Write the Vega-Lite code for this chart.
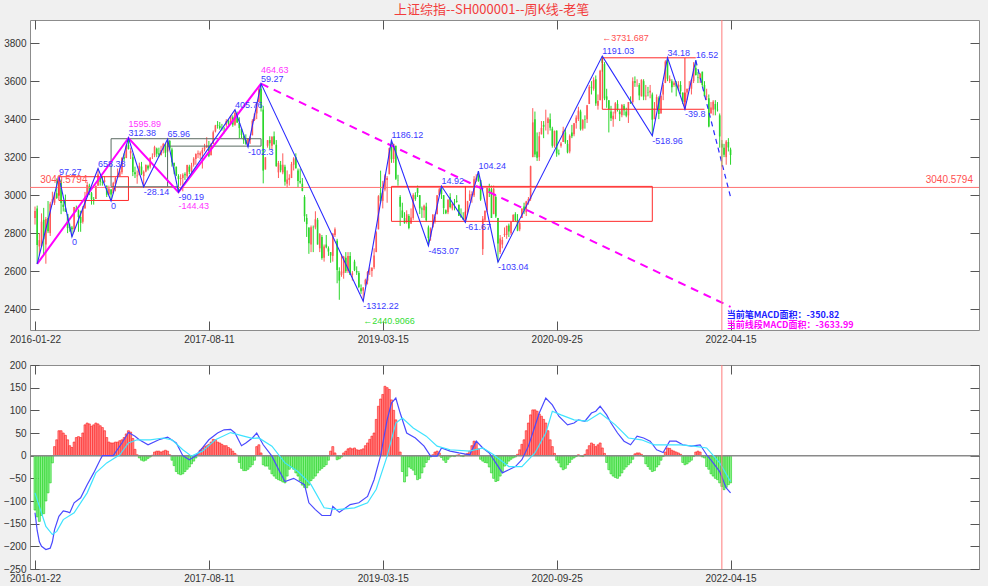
{
"$schema":"https://vega.github.io/schema/vega-lite/v6.json",
"background":"#f0f0f0",
"padding":{"left":2,"top":4,"right":11,"bottom":2},
"spacing":13,
"title":{"text":"上证综指--SH000001--周K线-老笔","fontSize":13,"font":"Noto Sans CJK SC","fontWeight":"normal","color":"#f23c3c","offset":2,"anchor":"middle"},
"config":{
 "view":{"fill":"white","stroke":"#8c8c8c","strokeWidth":1},
 "axis":{"domain":false,"grid":false,"labelFont":"Liberation Sans","labelFontSize":10,"labelColor":"#333333","tickColor":"#555555","tickSize":-9,"labelPadding":13,"labelOverlap":false},
 "text":{"font":"Liberation Sans","fontSize":9}
},
"datasets":{
"k":[
{"i":0,"o":2880,"h":2940,"l":2845,"c":2917,"m":-120},
{"i":1,"o":2930,"h":2945,"l":2638,"c":2738,"m":-135},
{"i":2,"o":2730,"h":2800,"l":2682,"c":2763,"m":-145},
{"i":3,"o":2730,"h":2904,"l":2730,"c":2860,"m":-132},
{"i":4,"o":2870,"h":2933,"l":2685,"c":2767,"m":-128},
{"i":5,"o":2740,"h":2885,"l":2639,"c":2874,"m":-100},
{"i":6,"o":2880,"h":2969,"l":2800,"c":2810,"m":-82},
{"i":7,"o":2800,"h":2965,"l":2785,"c":2955,"m":-60},
{"i":8,"o":2960,"h":3018,"l":2950,"c":2979,"m":-16},
{"i":9,"o":2960,"h":3016,"l":2948,"c":3009,"m":20},
{"i":10,"o":3010,"h":3088,"l":2980,"c":2985,"m":35},
{"i":11,"o":3000,"h":3097,"l":2995,"c":3078,"m":55},
{"i":12,"o":3070,"h":3082,"l":2900,"c":2959,"m":55},
{"i":13,"o":2950,"h":2970,"l":2914,"c":2938,"m":50},
{"i":14,"o":2930,"h":3003,"l":2912,"c":2913,"m":45},
{"i":15,"o":2900,"h":2900,"l":2800,"c":2827,"m":35},
{"i":16,"o":2830,"h":2850,"l":2807,"c":2825,"m":22},
{"i":17,"o":2830,"h":2838,"l":2781,"c":2821,"m":18},
{"i":18,"o":2820,"h":2938,"l":2806,"c":2938,"m":30},
{"i":19,"o":2930,"h":2945,"l":2914,"c":2927,"m":40},
{"i":20,"o":2920,"h":2925,"l":2807,"c":2885,"m":42},
{"i":21,"o":2885,"h":2918,"l":2807,"c":2854,"m":40},
{"i":22,"o":2860,"h":2942,"l":2850,"c":2932,"m":50},
{"i":23,"o":2930,"h":3017,"l":2930,"c":2988,"m":68},
{"i":24,"o":2990,"h":3070,"l":2990,"c":3054,"m":72},
{"i":25,"o":3050,"h":3060,"l":3000,"c":3012,"m":70},
{"i":26,"o":3010,"h":3017,"l":2950,"c":2979,"m":65},
{"i":27,"o":2980,"h":2990,"l":2950,"c":2976,"m":68},
{"i":28,"o":2980,"h":3050,"l":2980,"c":3050,"m":72},
{"i":29,"o":3050,"h":3140,"l":3050,"c":3108,"m":70},
{"i":30,"o":3100,"h":3100,"l":3050,"c":3070,"m":66},
{"i":31,"o":3070,"h":3100,"l":3050,"c":3067,"m":62},
{"i":32,"o":3070,"h":3100,"l":3065,"c":3078,"m":55},
{"i":33,"o":3050,"h":3050,"l":2990,"c":3002,"m":40},
{"i":34,"o":3005,"h":3050,"l":3000,"c":3033,"m":30},
{"i":35,"o":3030,"h":3032,"l":2969,"c":3004,"m":28},
{"i":36,"o":3010,"h":3070,"l":3010,"c":3063,"m":28},
{"i":37,"o":3060,"h":3095,"l":3020,"c":3090,"m":30},
{"i":38,"o":3095,"h":3140,"l":3090,"c":3104,"m":30},
{"i":39,"o":3100,"h":3145,"l":3100,"c":3125,"m":33},
{"i":40,"o":3120,"h":3200,"l":3110,"c":3196,"m":35},
{"i":41,"o":3200,"h":3220,"l":3180,"c":3192,"m":40},
{"i":42,"o":3195,"h":3270,"l":3195,"c":3261,"m":48},
{"i":43,"o":3265,"h":3301,"l":3240,"c":3243,"m":55},
{"i":44,"o":3220,"h":3250,"l":3190,"c":3232,"m":52},
{"i":45,"o":3200,"h":3220,"l":3100,"c":3122,"m":38},
{"i":46,"o":3120,"h":3150,"l":3090,"c":3110,"m":14},
{"i":47,"o":3100,"h":3130,"l":3060,"c":3104,"m":2},
{"i":48,"o":3105,"h":3171,"l":3105,"c":3154,"m":-5},
{"i":49,"o":3150,"h":3175,"l":3105,"c":3112,"m":-10},
{"i":50,"o":3100,"h":3130,"l":3044,"c":3123,"m":-12},
{"i":51,"o":3125,"h":3162,"l":3120,"c":3159,"m":-10},
{"i":52,"o":3155,"h":3160,"l":3130,"c":3140,"m":-6},
{"i":53,"o":3150,"h":3200,"l":3140,"c":3196,"m":-3},
{"i":54,"o":3200,"h":3220,"l":3190,"c":3202,"m":1},
{"i":55,"o":3210,"h":3260,"l":3200,"c":3253,"m":8},
{"i":56,"o":3245,"h":3250,"l":3200,"c":3218,"m":10},
{"i":57,"o":3220,"h":3250,"l":3200,"c":3212,"m":10},
{"i":58,"o":3210,"h":3260,"l":3210,"c":3237,"m":8},
{"i":59,"o":3240,"h":3275,"l":3220,"c":3269,"m":10},
{"i":60,"o":3260,"h":3270,"l":3200,"c":3223,"m":12},
{"i":61,"o":3230,"h":3295,"l":3230,"c":3286,"m":10},
{"i":62,"o":3285,"h":3290,"l":3240,"c":3246,"m":2},
{"i":63,"o":3240,"h":3250,"l":3150,"c":3173,"m":-10},
{"i":64,"o":3170,"h":3170,"l":3110,"c":3155,"m":-22},
{"i":65,"o":3150,"h":3150,"l":3100,"c":3103,"m":-35},
{"i":66,"o":3100,"h":3110,"l":3016,"c":3085,"m":-40},
{"i":67,"o":3085,"h":3110,"l":3050,"c":3090,"m":-42},
{"i":68,"o":3090,"h":3115,"l":3020,"c":3107,"m":-40},
{"i":69,"o":3110,"h":3120,"l":3080,"c":3105,"m":-35},
{"i":70,"o":3100,"h":3160,"l":3090,"c":3158,"m":-30},
{"i":71,"o":3150,"h":3160,"l":3110,"c":3123,"m":-25},
{"i":72,"o":3125,"h":3170,"l":3115,"c":3157,"m":-18},
{"i":73,"o":3160,"h":3200,"l":3150,"c":3192,"m":-12},
{"i":74,"o":3190,"h":3220,"l":3160,"c":3217,"m":-5},
{"i":75,"o":3215,"h":3235,"l":3195,"c":3220,"m":5},
{"i":76,"o":3210,"h":3230,"l":3190,"c":3222,"m":12},
{"i":77,"o":3220,"h":3250,"l":3140,"c":3237,"m":16},
{"i":78,"o":3240,"h":3270,"l":3230,"c":3253,"m":20},
{"i":79,"o":3250,"h":3305,"l":3250,"c":3262,"m":22},
{"i":80,"o":3260,"h":3285,"l":3200,"c":3208,"m":25},
{"i":81,"o":3210,"h":3275,"l":3210,"c":3268,"m":30},
{"i":82,"o":3270,"h":3340,"l":3270,"c":3331,"m":36},
{"i":83,"o":3335,"h":3370,"l":3330,"c":3367,"m":35},
{"i":84,"o":3370,"h":3390,"l":3350,"c":3365,"m":30},
{"i":85,"o":3365,"h":3385,"l":3345,"c":3353,"m":28},
{"i":86,"o":3355,"h":3375,"l":3340,"c":3352,"m":25},
{"i":87,"o":3350,"h":3360,"l":3325,"c":3348,"m":22},
{"i":88,"o":3370,"h":3400,"l":3360,"c":3390,"m":22},
{"i":89,"o":3390,"h":3400,"l":3370,"c":3378,"m":18},
{"i":90,"o":3380,"h":3420,"l":3370,"c":3416,"m":15},
{"i":91,"o":3410,"h":3420,"l":3360,"c":3371,"m":10},
{"i":92,"o":3370,"h":3450,"l":3365,"c":3432,"m":5},
{"i":93,"o":3430,"h":3440,"l":3380,"c":3382,"m":1},
{"i":94,"o":3380,"h":3410,"l":3300,"c":3353,"m":-15},
{"i":95,"o":3350,"h":3350,"l":3300,"c":3317,"m":-28},
{"i":96,"o":3310,"h":3320,"l":3270,"c":3289,"m":-33},
{"i":97,"o":3290,"h":3320,"l":3265,"c":3270,"m":-33},
{"i":98,"o":3265,"h":3300,"l":3254,"c":3297,"m":-30},
{"i":99,"o":3290,"h":3310,"l":3270,"c":3307,"m":-25},
{"i":100,"o":3315,"h":3400,"l":3315,"c":3391,"m":-20},
{"i":101,"o":3395,"h":3430,"l":3390,"c":3429,"m":-10},
{"i":102,"o":3430,"h":3490,"l":3400,"c":3487,"m":20},
{"i":103,"o":3490,"h":3570,"l":3490,"c":3558,"m":24},
{"i":104,"o":3560,"h":3587,"l":3440,"c":3462,"m":6},
{"i":105,"o":3450,"h":3470,"l":3062,"c":3129,"m":-20},
{"i":106,"o":3135,"h":3200,"l":3135,"c":3199,"m":-23},
{"i":107,"o":3260,"h":3290,"l":3250,"c":3289,"m":-23},
{"i":108,"o":3290,"h":3310,"l":3240,"c":3273,"m":-30},
{"i":109,"o":3260,"h":3310,"l":3240,"c":3307,"m":-40},
{"i":110,"o":3310,"h":3335,"l":3265,"c":3269,"m":-45},
{"i":111,"o":3265,"h":3290,"l":3150,"c":3152,"m":-50},
{"i":112,"o":3120,"h":3180,"l":3090,"c":3169,"m":-53},
{"i":113,"o":3160,"h":3180,"l":3120,"c":3131,"m":-55},
{"i":114,"o":3120,"h":3220,"l":3110,"c":3160,"m":-58},
{"i":115,"o":3150,"h":3160,"l":3050,"c":3071,"m":-60},
{"i":116,"o":3060,"h":3130,"l":3040,"c":3082,"m":-45},
{"i":117,"o":3080,"h":3110,"l":3050,"c":3091,"m":-30},
{"i":118,"o":3090,"h":3175,"l":3090,"c":3163,"m":-25},
{"i":119,"o":3160,"h":3200,"l":3130,"c":3193,"m":-30},
{"i":120,"o":3200,"h":3220,"l":3140,"c":3141,"m":-38},
{"i":121,"o":3130,"h":3140,"l":3040,"c":3075,"m":-45},
{"i":122,"o":3075,"h":3140,"l":3060,"c":3067,"m":-55},
{"i":123,"o":3060,"h":3090,"l":3020,"c":3022,"m":-65},
{"i":124,"o":2990,"h":3000,"l":2860,"c":2889,"m":-70},
{"i":125,"o":2880,"h":2900,"l":2780,"c":2847,"m":-71},
{"i":126,"o":2830,"h":2830,"l":2691,"c":2747,"m":-65},
{"i":127,"o":2740,"h":2840,"l":2700,"c":2831,"m":-55},
{"i":128,"o":2830,"h":2840,"l":2700,"c":2829,"m":-50},
{"i":129,"o":2830,"h":2915,"l":2820,"c":2873,"m":-45},
{"i":130,"o":2870,"h":2880,"l":2740,"c":2740,"m":-38},
{"i":131,"o":2720,"h":2800,"l":2700,"c":2795,"m":-32},
{"i":132,"o":2780,"h":2790,"l":2660,"c":2669,"m":-28},
{"i":133,"o":2670,"h":2740,"l":2650,"c":2730,"m":-24},
{"i":134,"o":2740,"h":2790,"l":2720,"c":2725,"m":-20},
{"i":135,"o":2720,"h":2730,"l":2680,"c":2703,"m":-10},
{"i":136,"o":2700,"h":2700,"l":2644,"c":2682,"m":10},
{"i":137,"o":2680,"h":2800,"l":2650,"c":2797,"m":20},
{"i":138,"o":2790,"h":2830,"l":2780,"c":2821,"m":6},
{"i":139,"o":2760,"h":2770,"l":2536,"c":2606,"m":-9},
{"i":140,"o":2600,"h":2620,"l":2449,"c":2550,"m":-7},
{"i":141,"o":2580,"h":2690,"l":2570,"c":2598,"m":-3},
{"i":142,"o":2590,"h":2680,"l":2560,"c":2676,"m":6},
{"i":143,"o":2670,"h":2700,"l":2590,"c":2599,"m":10},
{"i":144,"o":2600,"h":2700,"l":2590,"c":2679,"m":15},
{"i":145,"o":2680,"h":2700,"l":2580,"c":2580,"m":17},
{"i":146,"o":2580,"h":2600,"l":2550,"c":2588,"m":15},
{"i":147,"o":2650,"h":2660,"l":2600,"c":2605,"m":17},
{"i":148,"o":2600,"h":2625,"l":2580,"c":2593,"m":13},
{"i":149,"o":2590,"h":2600,"l":2510,"c":2516,"m":12},
{"i":150,"o":2510,"h":2530,"l":2480,"c":2494,"m":13},
{"i":151,"o":2497,"h":2515,"l":2441,"c":2514,"m":15},
{"i":152,"o":2530,"h":2560,"l":2520,"c":2554,"m":22},
{"i":153,"o":2550,"h":2600,"l":2530,"c":2596,"m":28},
{"i":154,"o":2600,"h":2620,"l":2580,"c":2601,"m":36},
{"i":155,"o":2600,"h":2620,"l":2570,"c":2618,"m":43},
{"i":156,"o":2620,"h":2720,"l":2610,"c":2682,"m":50},
{"i":157,"o":2700,"h":2810,"l":2700,"c":2804,"m":80},
{"i":158,"o":2820,"h":3000,"l":2820,"c":2994,"m":109},
{"i":159,"o":3010,"h":3129,"l":2960,"c":2969,"m":125},
{"i":160,"o":2970,"h":3075,"l":2930,"c":3021,"m":135},
{"i":161,"o":3030,"h":3110,"l":3020,"c":3104,"m":153},
{"i":162,"o":3080,"h":3100,"l":2960,"c":3090,"m":150},
{"i":163,"o":3110,"h":3250,"l":3110,"c":3247,"m":146},
{"i":164,"o":3260,"h":3288,"l":3170,"c":3189,"m":123},
{"i":165,"o":3190,"h":3270,"l":3170,"c":3270,"m":100},
{"i":166,"o":3260,"h":3260,"l":3080,"c":3086,"m":79},
{"i":167,"o":3080,"h":3107,"l":3050,"c":3078,"m":40},
{"i":168,"o":2990,"h":3000,"l":2838,"c":2939,"m":8},
{"i":169,"o":2920,"h":2960,"l":2880,"c":2882,"m":-35},
{"i":170,"o":2880,"h":2910,"l":2850,"c":2852,"m":-58},
{"i":171,"o":2860,"h":2920,"l":2850,"c":2899,"m":-45},
{"i":172,"o":2890,"h":2900,"l":2820,"c":2827,"m":-25},
{"i":173,"o":2850,"h":2930,"l":2850,"c":2882,"m":-28},
{"i":174,"o":2880,"h":3010,"l":2870,"c":3001,"m":-32},
{"i":175,"o":3000,"h":3015,"l":2970,"c":2979,"m":-42},
{"i":176,"o":3040,"h":3050,"l":2990,"c":3011,"m":-53},
{"i":177,"o":3000,"h":3000,"l":2900,"c":2930,"m":-50},
{"i":178,"o":2930,"h":2940,"l":2880,"c":2924,"m":-38},
{"i":179,"o":2920,"h":2950,"l":2880,"c":2944,"m":-25},
{"i":180,"o":2940,"h":2960,"l":2860,"c":2868,"m":-15},
{"i":181,"o":2830,"h":2840,"l":2734,"c":2774,"m":-9},
{"i":182,"o":2780,"h":2830,"l":2760,"c":2823,"m":-3},
{"i":183,"o":2830,"h":2900,"l":2830,"c":2897,"m":2},
{"i":184,"o":2860,"h":2900,"l":2850,"c":2886,"m":8},
{"i":185,"o":2900,"h":3000,"l":2900,"c":2999,"m":10},
{"i":186,"o":3000,"h":3040,"l":3000,"c":3031,"m":6},
{"i":187,"o":3040,"h":3048,"l":2980,"c":3006,"m":-4},
{"i":188,"o":3000,"h":3000,"l":2900,"c":2932,"m":-10},
{"i":189,"o":2920,"h":2925,"l":2900,"c":2905,"m":-15},
{"i":190,"o":2910,"h":2980,"l":2900,"c":2974,"m":-8},
{"i":191,"o":2990,"h":3010,"l":2930,"c":2938,"m":-3},
{"i":192,"o":2930,"h":2960,"l":2920,"c":2954,"m":-1},
{"i":193,"o":2960,"h":2980,"l":2920,"c":2958,"m":-2},
{"i":194,"o":2970,"h":3000,"l":2960,"c":2964,"m":1},
{"i":195,"o":2950,"h":2950,"l":2890,"c":2891,"m":2},
{"i":196,"o":2890,"h":2930,"l":2880,"c":2885,"m":-1},
{"i":197,"o":2880,"h":2910,"l":2870,"c":2872,"m":-2},
{"i":198,"o":2870,"h":2915,"l":2857,"c":2912,"m":2},
{"i":199,"o":2910,"h":2970,"l":2900,"c":2968,"m":5},
{"i":200,"o":2970,"h":3025,"l":2970,"c":3005,"m":10},
{"i":201,"o":3000,"h":3020,"l":2960,"c":3005,"m":22},
{"i":202,"o":3000,"h":3100,"l":2990,"c":3083,"m":32},
{"i":203,"o":3080,"h":3110,"l":3070,"c":3092,"m":30},
{"i":204,"o":3100,"h":3127,"l":3070,"c":3075,"m":15},
{"i":205,"o":3080,"h":3080,"l":2970,"c":2977,"m":-8},
{"i":206,"o":2716,"h":2890,"l":2685,"c":2876,"m":-12},
{"i":207,"o":2870,"h":2920,"l":2860,"c":2917,"m":-15},
{"i":208,"o":2920,"h":3040,"l":2910,"c":3039,"m":-16},
{"i":209,"o":3035,"h":3060,"l":2990,"c":3012,"m":-25},
{"i":210,"o":3030,"h":3050,"l":2880,"c":2880,"m":-38},
{"i":211,"o":2900,"h":3050,"l":2900,"c":3034,"m":-50},
{"i":212,"o":2990,"h":3000,"l":2880,"c":2887,"m":-57},
{"i":213,"o":2880,"h":2880,"l":2647,"c":2745,"m":-55},
{"i":214,"o":2700,"h":2790,"l":2690,"c":2772,"m":-45},
{"i":215,"o":2740,"h":2780,"l":2720,"c":2764,"m":-35},
{"i":216,"o":2790,"h":2830,"l":2780,"c":2796,"m":-23},
{"i":217,"o":2790,"h":2840,"l":2770,"c":2838,"m":-18},
{"i":218,"o":2840,"h":2850,"l":2780,"c":2809,"m":-12},
{"i":219,"o":2800,"h":2860,"l":2790,"c":2860,"m":-8},
{"i":220,"o":2860,"h":2900,"l":2860,"c":2895,"m":-5},
{"i":221,"o":2900,"h":2910,"l":2860,"c":2868,"m":-3},
{"i":222,"o":2870,"h":2900,"l":2810,"c":2813,"m":3},
{"i":223,"o":2820,"h":2860,"l":2810,"c":2852,"m":13},
{"i":224,"o":2880,"h":2930,"l":2880,"c":2930,"m":25},
{"i":225,"o":2940,"h":2960,"l":2900,"c":2920,"m":35},
{"i":226,"o":2910,"h":2970,"l":2890,"c":2967,"m":55},
{"i":227,"o":2960,"h":2990,"l":2950,"c":2980,"m":72},
{"i":228,"o":2980,"h":3155,"l":2970,"c":3152,"m":90},
{"i":229,"o":3200,"h":3458,"l":3200,"c":3383,"m":101},
{"i":230,"o":3400,"h":3440,"l":3200,"c":3214,"m":101},
{"i":231,"o":3230,"h":3330,"l":3180,"c":3197,"m":98},
{"i":232,"o":3200,"h":3333,"l":3180,"c":3310,"m":92},
{"i":233,"o":3320,"h":3390,"l":3320,"c":3354,"m":87},
{"i":234,"o":3370,"h":3390,"l":3300,"c":3360,"m":80},
{"i":235,"o":3380,"h":3450,"l":3340,"c":3380,"m":72},
{"i":236,"o":3380,"h":3410,"l":3320,"c":3404,"m":55},
{"i":237,"o":3400,"h":3430,"l":3340,"c":3355,"m":35},
{"i":238,"o":3350,"h":3360,"l":3250,"c":3260,"m":20},
{"i":239,"o":3260,"h":3340,"l":3250,"c":3338,"m":5},
{"i":240,"o":3340,"h":3340,"l":3202,"c":3219,"m":-10},
{"i":241,"o":3220,"h":3240,"l":3210,"c":3218,"m":-16},
{"i":242,"o":3260,"h":3280,"l":3250,"c":3272,"m":-25},
{"i":243,"o":3280,"h":3360,"l":3280,"c":3336,"m":-31},
{"i":244,"o":3330,"h":3350,"l":3270,"c":3278,"m":-28},
{"i":245,"o":3270,"h":3290,"l":3220,"c":3225,"m":-20},
{"i":246,"o":3230,"h":3320,"l":3220,"c":3312,"m":-15},
{"i":247,"o":3330,"h":3370,"l":3300,"c":3310,"m":-8},
{"i":248,"o":3320,"h":3380,"l":3310,"c":3378,"m":-5},
{"i":249,"o":3380,"h":3420,"l":3350,"c":3408,"m":-2},
{"i":250,"o":3400,"h":3465,"l":3390,"c":3445,"m":2},
{"i":251,"o":3440,"h":3450,"l":3340,"c":3347,"m":-1},
{"i":252,"o":3350,"h":3400,"l":3340,"c":3395,"m":-2},
{"i":253,"o":3400,"h":3420,"l":3350,"c":3397,"m":3},
{"i":254,"o":3400,"h":3475,"l":3380,"c":3473,"m":13},
{"i":255,"o":3480,"h":3580,"l":3480,"c":3570,"m":22},
{"i":256,"o":3570,"h":3600,"l":3530,"c":3566,"m":28},
{"i":257,"o":3560,"h":3620,"l":3550,"c":3607,"m":25},
{"i":258,"o":3610,"h":3630,"l":3470,"c":3483,"m":20},
{"i":259,"o":3470,"h":3530,"l":3450,"c":3496,"m":24},
{"i":260,"o":3500,"h":3660,"l":3500,"c":3655,"m":28},
{"i":261,"o":3720,"h":3732,"l":3650,"c":3696,"m":17},
{"i":262,"o":3690,"h":3700,"l":3500,"c":3509,"m":5},
{"i":263,"o":3520,"h":3560,"l":3460,"c":3502,"m":-15},
{"i":264,"o":3500,"h":3500,"l":3330,"c":3453,"m":-31},
{"i":265,"o":3440,"h":3470,"l":3390,"c":3405,"m":-40},
{"i":266,"o":3400,"h":3440,"l":3360,"c":3418,"m":-45},
{"i":267,"o":3430,"h":3490,"l":3400,"c":3484,"m":-48},
{"i":268,"o":3480,"h":3500,"l":3440,"c":3450,"m":-50},
{"i":269,"o":3440,"h":3450,"l":3390,"c":3426,"m":-45},
{"i":270,"o":3420,"h":3480,"l":3410,"c":3474,"m":-38},
{"i":271,"o":3470,"h":3480,"l":3420,"c":3447,"m":-30},
{"i":272,"o":3440,"h":3460,"l":3410,"c":3418,"m":-25},
{"i":273,"o":3420,"h":3490,"l":3380,"c":3490,"m":-20},
{"i":274,"o":3490,"h":3520,"l":3480,"c":3486,"m":-16},
{"i":275,"o":3490,"h":3620,"l":3480,"c":3600,"m":-8},
{"i":276,"o":3600,"h":3625,"l":3570,"c":3592,"m":4},
{"i":277,"o":3590,"h":3610,"l":3570,"c":3590,"m":6},
{"i":278,"o":3580,"h":3590,"l":3500,"c":3525,"m":6},
{"i":279,"o":3520,"h":3610,"l":3520,"c":3607,"m":3},
{"i":280,"o":3600,"h":3610,"l":3500,"c":3519,"m":-2},
{"i":281,"o":3520,"h":3580,"l":3500,"c":3524,"m":-18},
{"i":282,"o":3540,"h":3570,"l":3520,"c":3539,"m":-24},
{"i":283,"o":3540,"h":3580,"l":3510,"c":3550,"m":-30},
{"i":284,"o":3530,"h":3540,"l":3313,"c":3397,"m":-35},
{"i":285,"o":3400,"h":3490,"l":3400,"c":3458,"m":-33},
{"i":286,"o":3460,"h":3530,"l":3450,"c":3516,"m":-25},
{"i":287,"o":3510,"h":3520,"l":3400,"c":3427,"m":-20},
{"i":288,"o":3430,"h":3530,"l":3430,"c":3522,"m":-10},
{"i":289,"o":3530,"h":3590,"l":3500,"c":3581,"m":-2},
{"i":290,"o":3590,"h":3710,"l":3590,"c":3703,"m":8},
{"i":291,"o":3710,"h":3724,"l":3600,"c":3613,"m":17},
{"i":292,"o":3600,"h":3630,"l":3590,"c":3613,"m":16},
{"i":293,"o":3600,"h":3610,"l":3540,"c":3568,"m":12},
{"i":294,"o":3580,"h":3600,"l":3570,"c":3592,"m":10},
{"i":295,"o":3590,"h":3600,"l":3520,"c":3572,"m":8},
{"i":296,"o":3570,"h":3600,"l":3550,"c":3583,"m":6},
{"i":297,"o":3580,"h":3600,"l":3530,"c":3547,"m":3},
{"i":298,"o":3540,"h":3540,"l":3480,"c":3491,"m":-15},
{"i":299,"o":3490,"h":3540,"l":3452,"c":3539,"m":-20},
{"i":300,"o":3540,"h":3560,"l":3500,"c":3560,"m":-18},
{"i":301,"o":3560,"h":3600,"l":3550,"c":3564,"m":-14},
{"i":302,"o":3560,"h":3610,"l":3530,"c":3607,"m":-10},
{"i":303,"o":3600,"h":3700,"l":3590,"c":3666,"m":-2},
{"i":304,"o":3670,"h":3709,"l":3630,"c":3632,"m":8},
{"i":305,"o":3620,"h":3650,"l":3590,"c":3618,"m":10},
{"i":306,"o":3615,"h":3640,"l":3590,"c":3640,"m":8},
{"i":307,"o":3650,"h":3650,"l":3570,"c":3580,"m":-3},
{"i":308,"o":3580,"h":3600,"l":3520,"c":3521,"m":-5},
{"i":309,"o":3520,"h":3560,"l":3500,"c":3522,"m":-24},
{"i":310,"o":3510,"h":3530,"l":3357,"c":3361,"m":-30},
{"i":311,"o":3430,"h":3490,"l":3430,"c":3462,"m":-40},
{"i":312,"o":3450,"h":3500,"l":3420,"c":3491,"m":-45},
{"i":313,"o":3480,"h":3500,"l":3420,"c":3451,"m":-50},
{"i":314,"o":3450,"h":3490,"l":3440,"c":3447,"m":-53},
{"i":315,"o":3420,"h":3430,"l":3250,"c":3309,"m":-60},
{"i":316,"o":3270,"h":3290,"l":3150,"c":3251,"m":-68},
{"i":317,"o":3250,"h":3270,"l":3200,"c":3212,"m":-75},
{"i":318,"o":3200,"h":3290,"l":3160,"c":3282,"m":-70},
{"i":319,"o":3280,"h":3300,"l":3230,"c":3251,"m":-64},
{"i":320,"o":3240,"h":3250,"l":3160,"c":3211,"m":-60}
],
"dif":[{"i":0,"v":-126},{"i":1,"v":-165},{"i":2,"v":-190},{"i":3,"v":-200},{"i":5,"v":-207},{"i":7,"v":-204},{"i":8,"v":-190},{"i":9,"v":-163},{"i":11,"v":-134},{"i":13,"v":-122},{"i":15,"v":-124},{"i":16,"v":-126},{"i":18,"v":-104},{"i":21,"v":-93},{"i":24,"v":-64},{"i":27,"v":-38},{"i":30,"v":-9},{"i":31,"v":0},{"i":36,"v":0},{"i":40,"v":28},{"i":43,"v":51},{"i":46,"v":43},{"i":48,"v":35},{"i":52,"v":24},{"i":57,"v":35},{"i":61,"v":41},{"i":65,"v":28},{"i":68,"v":0},{"i":71,"v":-9},{"i":74,"v":0},{"i":77,"v":17},{"i":80,"v":35},{"i":84,"v":50},{"i":87,"v":57},{"i":90,"v":58},{"i":92,"v":50},{"i":95,"v":22},{"i":97,"v":28},{"i":100,"v":39},{"i":102,"v":50},{"i":105,"v":24},{"i":109,"v":-1},{"i":112,"v":-30},{"i":115,"v":-57},{"i":119,"v":-50},{"i":124,"v":-64},{"i":126,"v":-104},{"i":129,"v":-119},{"i":132,"v":-132},{"i":136,"v":-132},{"i":137,"v":-112},{"i":140,"v":-125},{"i":145,"v":-108},{"i":149,"v":-104},{"i":153,"v":-90},{"i":156,"v":-53},{"i":159,"v":0},{"i":162,"v":79},{"i":164,"v":116},{"i":166,"v":127},{"i":168,"v":94},{"i":171,"v":50},{"i":175,"v":39},{"i":179,"v":21},{"i":182,"v":-1},{"i":185,"v":-1},{"i":187,"v":17},{"i":191,"v":10},{"i":195,"v":6},{"i":200,"v":2},{"i":203,"v":32},{"i":206,"v":17},{"i":209,"v":6},{"i":212,"v":-16},{"i":215,"v":-38},{"i":218,"v":-31},{"i":221,"v":-24},{"i":224,"v":-9},{"i":227,"v":21},{"i":230,"v":65},{"i":232,"v":94},{"i":235,"v":127},{"i":238,"v":112},{"i":241,"v":87},{"i":245,"v":68},{"i":248,"v":72},{"i":250,"v":79},{"i":253,"v":76},{"i":256,"v":94},{"i":258,"v":98},{"i":260,"v":109},{"i":263,"v":90},{"i":265,"v":72},{"i":268,"v":50},{"i":271,"v":32},{"i":274,"v":24},{"i":277,"v":43},{"i":280,"v":39},{"i":283,"v":32},{"i":286,"v":13},{"i":289,"v":7},{"i":292,"v":32},{"i":295,"v":32},{"i":298,"v":24},{"i":302,"v":21},{"i":306,"v":24},{"i":309,"v":2},{"i":312,"v":-16},{"i":315,"v":-35},{"i":318,"v":-71},{"i":320,"v":-82}],
"dea":[{"i":0,"v":-82},{"i":2,"v":-112},{"i":5,"v":-156},{"i":8,"v":-174},{"i":10,"v":-167},{"i":13,"v":-141},{"i":18,"v":-126},{"i":24,"v":-82},{"i":28,"v":-38},{"i":33,"v":-16},{"i":39,"v":2},{"i":43,"v":28},{"i":47,"v":35},{"i":53,"v":35},{"i":59,"v":39},{"i":63,"v":35},{"i":68,"v":13},{"i":72,"v":-1},{"i":77,"v":10},{"i":83,"v":35},{"i":90,"v":51},{"i":96,"v":43},{"i":100,"v":38},{"i":103,"v":39},{"i":109,"v":21},{"i":115,"v":-16},{"i":121,"v":-35},{"i":127,"v":-64},{"i":133,"v":-115},{"i":139,"v":-119},{"i":147,"v":-115},{"i":153,"v":-104},{"i":157,"v":-74},{"i":162,"v":-1},{"i":166,"v":72},{"i":169,"v":83},{"i":174,"v":61},{"i":180,"v":43},{"i":185,"v":21},{"i":191,"v":13},{"i":200,"v":10},{"i":206,"v":17},{"i":211,"v":2},{"i":218,"v":-24},{"i":224,"v":-24},{"i":230,"v":6},{"i":235,"v":50},{"i":238,"v":98},{"i":242,"v":90},{"i":248,"v":79},{"i":254,"v":76},{"i":260,"v":94},{"i":267,"v":68},{"i":273,"v":39},{"i":279,"v":35},{"i":285,"v":24},{"i":291,"v":24},{"i":297,"v":24},{"i":303,"v":21},{"i":309,"v":17},{"i":315,"v":-16},{"i":320,"v":-57}],
"bi":[{"i":1,"v":2638},{"i":11,"v":3097},{"i":17,"v":2781},{"i":29,"v":3140},{"i":35,"v":2969},{"i":43,"v":3301},{"i":50,"v":3044},{"i":61,"v":3295},{"i":66,"v":3016},{"i":92,"v":3450},{"i":98,"v":3254},{"i":104,"v":3587},{"i":151,"v":2441},{"i":164,"v":3288},{"i":181,"v":2734},{"i":187,"v":3048},{"i":198,"v":2857},{"i":204,"v":3127},{"i":213,"v":2647},{"i":261,"v":3732},{"i":284,"v":3313},{"i":291,"v":3724},{"i":299,"v":3452},{"i":304,"v":3709}],
"bid":[{"i":304,"v":3709},{"i":320,"v":2990}],
"seg":[{"i":1,"v":2638},{"i":43,"v":3301},{"i":66,"v":3016},{"i":104,"v":3587}],
"segd":[{"i":104,"v":3587},{"i":320,"v":2412}],
"zs":[{"i1":11,"i2":43,"lo":2972,"hi":3097,"k":"r"},{"i1":35,"i2":61,"lo":3044,"hi":3297,"k":"g"},{"i1":61,"i2":104,"lo":3258,"hi":3297,"k":"g"},{"i1":164,"i2":284,"lo":2862,"hi":3046,"k":"r"},{"i1":261,"i2":299,"lo":3452,"hi":3723,"k":"r"}],
"hl":[{"i1":61,"i2":66,"v":3044,"k":"g"},{"i1":299,"i2":304,"v":3723,"k":"r"},{"i1":299,"i2":308,"v":3452,"k":"r"}],
"vl":[{"i":198,"lo":2862,"hi":3046,"k":"r"}],
"tx":[
{"i":11,"v":3097,"t":"97.27","k":"p"},{"i":29,"v":3140,"t":"658.38","k":"p"},{"i":43,"v":3301,"t":"312.38","k":"p"},{"i":61,"v":3295,"t":"65.96","k":"p"},{"i":92,"v":3450,"t":"405.76","k":"p"},{"i":104,"v":3587,"t":"59.27","k":"p"},{"i":164,"v":3288,"t":"1186.12","k":"p"},{"i":187,"v":3048,"t":"14.92","k":"p"},{"i":204,"v":3127,"t":"104.24","k":"p"},{"i":261,"v":3732,"t":"1191.03","k":"p"},{"i":291,"v":3724,"t":"34.18","k":"p"},{"i":304,"v":3709,"t":"16.52","k":"p"},
{"i":17,"v":2781,"t":"0","k":"t"},{"i":35,"v":2969,"t":"0","k":"t"},{"i":50,"v":3044,"t":"-28.14","k":"t"},{"i":66,"v":3016,"t":"-90.19","k":"t"},{"i":98,"v":3254,"t":"-102.3","k":"t"},{"i":151,"v":2441,"t":"-1312.22","k":"t"},{"i":181,"v":2734,"t":"-453.07","k":"t"},{"i":198,"v":2857,"t":"-61.67","k":"t"},{"i":213,"v":2647,"t":"-103.04","k":"t"},{"i":284,"v":3313,"t":"-518.96","k":"t"},{"i":299,"v":3452,"t":"-39.8","k":"t"},
{"i":43,"v":3301,"t":"1595.89","k":"P"},{"i":104,"v":3587,"t":"464.63","k":"P"},{"i":66,"v":3016,"t":"-144.43","k":"T"},
{"i":261,"v":3731.687,"t":"←3731.687","k":"r"},
{"i":151,"v":2440.9066,"t":"←2440.9066","k":"g"},
{"i":2.4,"v":3040.5794,"t":"3040.5794","k":"L"},
{"i":432,"v":3040.5794,"t":"3040.5794","k":"R"},
{"i":318.3,"v":2370,"t":"当前笔MACD面积：-350.82","k":"b"},
{"i":318.3,"v":2317,"t":"当前线段MACD面积：-3633.99","k":"m"}
]
},
"vconcat":[
{
"width":949,"height":310,
"resolve":{"axis":{"x":"independent","y":"independent"}},
"layer":[
{"data":{"name":"k"},"mark":{"type":"rule","strokeWidth":1},
 "encoding":{
  "x":{"field":"i","type":"quantitative","title":null,"scale":{"domain":[0,432],"nice":false,"zero":false},"axis":{"values":[0,80,160,240,320],"labelExpr":"datum.value==0?'2016-01-22':datum.value==80?'2017-08-11':datum.value==160?'2019-03-15':datum.value==240?'2020-09-25':'2022-04-15'","labelFlush":false,"minExtent":15,"maxExtent":15}},
  "y":{"field":"l","type":"quantitative","title":null,"scale":{"domain":[2290,3922],"nice":false,"zero":false},"axis":{"values":[2400,2600,2800,3000,3200,3400,3600,3800],"format":"d","minExtent":26,"maxExtent":26}},
  "y2":{"field":"h"},
  "color":{"condition":{"test":"datum.c>=datum.o","value":"#ff5a5a"},"value":"#2bd62b"}}},
{"data":{"name":"k"},"mark":{"type":"bar","size":1.6,"orient":"vertical"},
 "encoding":{
  "x":{"field":"i","type":"quantitative","title":null,"axis":{"orient":"top","values":[0,80,160,240,320],"labels":false,"minExtent":0,"maxExtent":0}},
  "y":{"field":"o","type":"quantitative","title":null,"axis":{"orient":"right","values":[2400,2600,2800,3000,3200,3400,3600,3800],"labels":false,"minExtent":0,"maxExtent":0}},
  "y2":{"field":"c"},
  "color":{"condition":{"test":"datum.c>=datum.o","value":"#ff5a5a"},"value":"#2bd62b"}}},
{"data":{"values":[{}]},"mark":{"type":"rule","color":"#ff7272","strokeWidth":1},"encoding":{"y":{"datum":3040.5794,"type":"quantitative","axis":null}}},
{"data":{"name":"zs"},"mark":{"type":"rect","filled":false,"strokeWidth":1},
 "encoding":{
  "x":{"field":"i1","type":"quantitative","axis":null},"x2":{"field":"i2"},
  "y":{"field":"lo","type":"quantitative","axis":null},"y2":{"field":"hi"},
  "stroke":{"field":"k","type":"nominal","scale":{"domain":["g","r"],"range":["#5a6a62","#ff2a2a"]},"legend":null}}},
{"data":{"name":"hl"},"mark":{"type":"rule","strokeWidth":1},
 "encoding":{
  "x":{"field":"i1","type":"quantitative","axis":null},"x2":{"field":"i2"},
  "y":{"field":"v","type":"quantitative","axis":null},
  "color":{"field":"k","type":"nominal","scale":{"domain":["g","r"],"range":["#5a6a62","#ff2a2a"]},"legend":null}}},
{"data":{"name":"vl"},"mark":{"type":"rule","strokeWidth":1,"color":"#ff2a2a"},
 "encoding":{
  "x":{"field":"i","type":"quantitative","axis":null},
  "y":{"field":"lo","type":"quantitative","axis":null},"y2":{"field":"hi"}}},
{"data":{"name":"seg"},"mark":{"type":"line","color":"#ff00ff","strokeWidth":2},
 "encoding":{"x":{"field":"i","type":"quantitative","axis":null},"y":{"field":"v","type":"quantitative","axis":null}}},
{"data":{"name":"segd"},"mark":{"type":"line","color":"#ff00ff","strokeWidth":2,"strokeDash":[8,6]},
 "encoding":{"x":{"field":"i","type":"quantitative","axis":null},"y":{"field":"v","type":"quantitative","axis":null}}},
{"data":{"name":"bi"},"mark":{"type":"line","color":"#2a2aff","strokeWidth":1.1},
 "encoding":{"x":{"field":"i","type":"quantitative","axis":null},"y":{"field":"v","type":"quantitative","axis":null}}},
{"data":{"name":"bid"},"mark":{"type":"line","color":"#2a2aff","strokeWidth":1.2,"strokeDash":[5,4]},
 "encoding":{"x":{"field":"i","type":"quantitative","axis":null},"y":{"field":"v","type":"quantitative","axis":null}}},
{"data":{"name":"tx"},"transform":[{"filter":"datum.k=='p'"}],"mark":{"type":"text","align":"left","baseline":"bottom","dy":0,"color":"#3a3aff"},
 "encoding":{"x":{"field":"i","type":"quantitative","axis":null},"y":{"field":"v","type":"quantitative","axis":null},"text":{"field":"t"}}},
{"data":{"name":"tx"},"transform":[{"filter":"datum.k=='t'"}],"mark":{"type":"text","align":"left","baseline":"top","dy":1,"color":"#3a3aff"},
 "encoding":{"x":{"field":"i","type":"quantitative","axis":null},"y":{"field":"v","type":"quantitative","axis":null},"text":{"field":"t"}}},
{"data":{"name":"tx"},"transform":[{"filter":"datum.k=='P'"}],"mark":{"type":"text","align":"left","baseline":"bottom","dy":-9,"color":"#ff33ff"},
 "encoding":{"x":{"field":"i","type":"quantitative","axis":null},"y":{"field":"v","type":"quantitative","axis":null},"text":{"field":"t"}}},
{"data":{"name":"tx"},"transform":[{"filter":"datum.k=='T'"}],"mark":{"type":"text","align":"left","baseline":"top","dy":10,"color":"#ff33ff"},
 "encoding":{"x":{"field":"i","type":"quantitative","axis":null},"y":{"field":"v","type":"quantitative","axis":null},"text":{"field":"t"}}},
{"data":{"name":"tx"},"transform":[{"filter":"datum.k=='r'"}],"mark":{"type":"text","align":"left","baseline":"bottom","dy":-13,"color":"#ff5050"},
 "encoding":{"x":{"field":"i","type":"quantitative","axis":null},"y":{"field":"v","type":"quantitative","axis":null},"text":{"field":"t"}}},
{"data":{"name":"tx"},"transform":[{"filter":"datum.k=='g'"}],"mark":{"type":"text","align":"left","baseline":"top","dy":16,"color":"#33dd33"},
 "encoding":{"x":{"field":"i","type":"quantitative","axis":null},"y":{"field":"v","type":"quantitative","axis":null},"text":{"field":"t"}}},
{"data":{"name":"tx"},"transform":[{"filter":"datum.k=='L'"}],"mark":{"type":"text","align":"left","baseline":"bottom","dy":-2,"color":"#ff5050","fontSize":10},
 "encoding":{"x":{"field":"i","type":"quantitative","axis":null},"y":{"field":"v","type":"quantitative","axis":null},"text":{"field":"t"}}},
{"data":{"name":"tx"},"transform":[{"filter":"datum.k=='R'"}],"mark":{"type":"text","align":"right","baseline":"bottom","dy":-2,"dx":-1,"color":"#ff5050","fontSize":10},
 "encoding":{"x":{"field":"i","type":"quantitative","axis":null},"y":{"field":"v","type":"quantitative","axis":null},"text":{"field":"t"}}},
{"data":{"name":"tx"},"transform":[{"filter":"datum.k=='b'"}],"mark":{"type":"text","align":"left","baseline":"middle","color":"#2020ff","fontWeight":"bold","font":"Noto Sans CJK SC","fontSize":9},
 "encoding":{"x":{"field":"i","type":"quantitative","axis":null},"y":{"field":"v","type":"quantitative","axis":null},"text":{"field":"t"}}},
{"data":{"name":"tx"},"transform":[{"filter":"datum.k=='m'"}],"mark":{"type":"text","align":"left","baseline":"middle","color":"#ff00ff","fontWeight":"bold","font":"Noto Sans CJK SC","fontSize":9},
 "encoding":{"x":{"field":"i","type":"quantitative","axis":null},"y":{"field":"v","type":"quantitative","axis":null},"text":{"field":"t"}}},
{"data":{"values":[{}]},"mark":{"type":"rule","color":"#ff7a7a","strokeWidth":1},"encoding":{"x":{"datum":316,"type":"quantitative","axis":null}}}
]
},
{
"width":949,"height":204,
"resolve":{"axis":{"x":"independent","y":"independent"}},
"layer":[
{"data":{"name":"k"},"mark":{"type":"bar","size":2,"orient":"vertical","strokeWidth":0.6},
 "encoding":{
  "x":{"field":"i","type":"quantitative","title":null,"scale":{"domain":[0,432],"nice":false,"zero":false},"axis":{"values":[0,80,160,240,320],"labelExpr":"datum.value==0?'2016-01-22':datum.value==80?'2017-08-11':datum.value==160?'2019-03-15':datum.value==240?'2020-09-25':'2022-04-15'","labelFlush":false,"minExtent":15,"maxExtent":15}},
  "y":{"field":"m","type":"quantitative","title":null,"scale":{"domain":[-250,200],"nice":false,"zero":false},"axis":{"values":[-250,-200,-150,-100,-50,0,50,100,150,200],"format":"d","minExtent":26,"maxExtent":26}},
  "y2":{"datum":0},
  "fill":{"condition":{"test":"datum.m>=0","value":"#ff8c8c"},"value":"#8cf08c"},
  "stroke":{"condition":{"test":"datum.m>=0","value":"#ff1a1a"},"value":"#1fd21f"}}},
{"data":{"values":[{}]},"mark":{"type":"rule","color":"#8a8a8a","strokeWidth":1.5},"encoding":{"y":{"datum":0,"type":"quantitative","axis":null}}},
{"data":{"name":"dif"},"mark":{"type":"line","color":"#4a4aff","strokeWidth":1.2},
 "encoding":{"x":{"field":"i","type":"quantitative","title":null,"axis":{"orient":"top","values":[0,80,160,240,320],"labels":false,"minExtent":0,"maxExtent":0}},"y":{"field":"v","type":"quantitative","title":null,"axis":{"orient":"right","values":[-250,-200,-150,-100,-50,0,50,100,150,200],"labels":false,"minExtent":0,"maxExtent":0}}}},
{"data":{"name":"dea"},"mark":{"type":"line","color":"#3fe3ff","strokeWidth":1.2},
 "encoding":{"x":{"field":"i","type":"quantitative","axis":null},"y":{"field":"v","type":"quantitative","axis":null}}},
{"data":{"values":[{}]},"mark":{"type":"rule","color":"#ff7a7a","strokeWidth":1},"encoding":{"x":{"datum":316,"type":"quantitative","axis":null}}}
]
}
]
}
